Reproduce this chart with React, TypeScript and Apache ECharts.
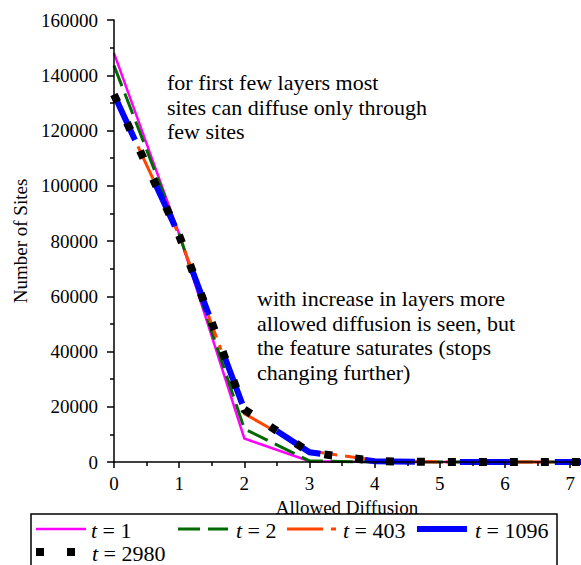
import React, { useEffect, useRef } from 'react';
import * as echarts from 'echarts';

// Allowed diffusion (x) values
const xValues = [0, 1, 2, 3, 4, 5, 6, 7, 8];
// Number of sites for each t
const sitesT1 = [148000, 82500, 8500, 300, 0, 0, 0, 0, 0];
const sitesT2 = [143500, 82500, 12000, 400, 0, 0, 0, 0, 0];
const sitesT403 = [133000, 82000, 17500, 4000, 600, 0, 0, 0, 0];
const sitesT1096 = [133000, 82000, 19000, 3500, 300, 0, 0, 0, 0];
const sitesT2980 = [133000, 82000, 19000, 3500, 300, 0, 0, 0, 0];

const seriesLabels = ['1', '2', '403', '1096', '2980'];
const xTickValues = [0, 1, 2, 3, 4, 5, 6, 7];
const xMinorTickValues = [0.5, 1.5, 2.5, 3.5, 4.5, 5.5, 6.5];

const annotation1 = 'for first few layers most\nsites can diffuse only through\nfew sites';
const annotation2 =
  'with increase in layers more\nallowed diffusion is seen, but\nthe feature saturates (stops\nchanging further)';

const FONT = 'Liberation Serif, serif';

export default function App() {
  const ref = useRef<HTMLDivElement>(null);

  useEffect(() => {
    const chart = echarts.init(ref.current!, null, { renderer: 'svg' });

    const mk = (name: string, data: number[], color: string, width: number, type: any) => ({
      type: 'line',
      name,
      data: xValues.map((x, i) => [x, data[i]]),
      symbol: 'none',
      showSymbol: false,
      clip: false,
      lineStyle: { color, width, type, cap: 'butt', join: 'miter' },
    });

    const styles = [
      { color: '#ff00ff', width: 2.5, dash: 'solid' as any },
      { color: '#006a00', width: 3, dash: [22, 8] },
      { color: '#ff4500', width: 3, dash: [36, 8, 5, 8] },
      { color: '#0000ff', width: 6, dash: [50, 45] },
      { color: '#000000', width: 8, dash: [8, 23] },
    ];
    const datasets = [sitesT1, sitesT2, sitesT403, sitesT1096, sitesT2980];

    const series = datasets.map((d, i) =>
      mk('t = ' + seriesLabels[i], d, styles[i].color, styles[i].width, styles[i].dash)
    );

    // Legend (drawn as graphic)
    const legendPos = [
      { x: 36, y: 529, tx: 91 },
      { x: 178, y: 529, tx: 236 },
      { x: 287, y: 529, tx: 343 },
      { x: 417, y: 529, tx: 475 },
      { x: 36, y: 552, tx: 92 },
    ];
    const legendEls: any[] = [
      {
        type: 'rect',
        shape: { x: 31, y: 514, width: 526, height: 70 },
        style: { fill: '#fff', stroke: '#000', lineWidth: 1.5 },
        z: 10,
      },
    ];
    legendPos.forEach((p, i) => {
      const st = styles[i];
      legendEls.push({
        type: 'line',
        shape: { x1: p.x, y1: p.y, x2: p.x + 50, y2: p.y },
        style: {
          stroke: st.color,
          lineWidth: st.width,
          lineDash: Array.isArray(st.dash) ? st.dash : null,
          lineCap: 'butt',
        },
        z: 11,
      });
      legendEls.push({
        type: 'text',
        x: p.tx,
        y: p.y + 1,
        style: {
          text: '{i|t} = ' + seriesLabels[i],
          rich: { i: { fontStyle: 'italic', fontSize: 22, fontFamily: FONT, fill: '#000' } },
          fontSize: 22,
          fontFamily: FONT,
          fill: '#000',
          verticalAlign: 'middle',
          align: 'left',
        },
        z: 11,
      });
    });

    const axisLineStyle = { color: '#000', width: 1.5 };

    const annot = (text: string, x: number, y: number) => ({
      type: 'text',
      x,
      y,
      style: {
        text,
        fontSize: 22,
        fontFamily: FONT,
        lineHeight: 24.7,
        fill: '#000',
        verticalAlign: 'top',
      },
      z: 10,
    });

    chart.setOption({
      animation: false,
      backgroundColor: '#fff',
      textStyle: { fontFamily: FONT },
      grid: { left: 114, top: 20, right: 1, bottom: 103, containLabel: false },
      xAxis: [
        {
          type: 'value',
          min: 0,
          max: 7.15,
          interval: 1,
          z: 5,
          axisLine: { show: true, lineStyle: axisLineStyle, onZero: false },
          axisTick: { show: true, customValues: xTickValues, length: 6, lineStyle: axisLineStyle },
          axisLabel: {
            customValues: xTickValues,
            fontSize: 19,
            fontFamily: FONT,
            color: '#000',
            margin: 12,
          },
          splitLine: { show: false },
          name: 'Allowed Diffusion',
          nameLocation: 'middle',
          nameGap: 34,
          nameTextStyle: { fontSize: 19, fontFamily: FONT, color: '#000' },
        },
        {
          type: 'value',
          min: 0,
          max: 7.15,
          position: 'bottom',
          offset: 0,
          z: 5,
          axisLine: { show: false },
          axisTick: { show: true, customValues: xMinorTickValues, length: 4, lineStyle: axisLineStyle },
          axisLabel: { show: false },
          splitLine: { show: false },
        },
      ],
      yAxis: {
        type: 'value',
        min: 0,
        max: 160000,
        interval: 20000,
        z: 5,
        axisLine: { show: true, lineStyle: axisLineStyle, onZero: false },
        axisTick: { show: true, length: 7, lineStyle: axisLineStyle },
        minorTick: { show: true, splitNumber: 2, length: 4, lineStyle: axisLineStyle },
        axisLabel: {
          formatter: (v: number) => String(v),
          fontSize: 19,
          fontFamily: FONT,
          color: '#000',
          margin: 16,
        },
        splitLine: { show: false },
        minorSplitLine: { show: false },
        name: 'Number of Sites',
        nameLocation: 'middle',
        nameGap: 82,
        nameTextStyle: { fontSize: 19, fontFamily: FONT, color: '#000' },
      },
      series,
      graphic: [annot(annotation1, 167, 70), annot(annotation2, 257, 286), ...legendEls],
    });

    return () => chart.dispose();
  }, []);

  return (
    <div
      ref={ref}
      style={{ position: 'fixed', left: 0, top: 0, width: 581, height: 565 }}
    />
  );
}
